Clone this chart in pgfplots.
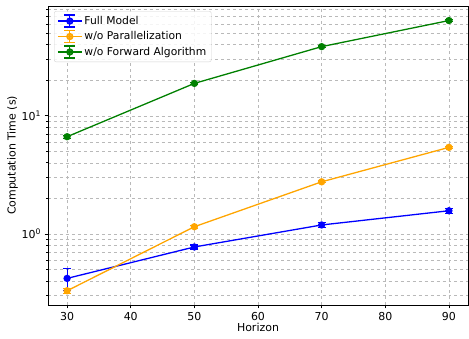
\documentclass[border=0pt]{standalone}
\usepackage{pgfplots}
\pgfplotsset{compat=1.18}
\usepackage{fontspec}
\setmainfont{DejaVu Sans}
\definecolor{mblue}{RGB}{0,0,255}
\definecolor{morange}{RGB}{255,165,0}
\definecolor{mgreen}{RGB}{0,128,0}
\begin{document}
\begin{tikzpicture}
\useasboundingbox (-48bp,-34bp) rectangle (421bp,305bp);
\begin{axis}[
  at={(0,0)}, anchor=south west,
  scale only axis, width=420bp, height=299bp,
  ymode=log,
  xmin=27, xmax=93, ymin=0.25, ymax=85,
  xtick={30,40,...,90},
  ytick={1,10},
  minor ytick={0.3,0.4,0.5,0.6,0.7,0.8,0.9,2,3,4,5,6,7,8,9,20,30,40,50,60,70,80},
  yticklabels={10\textsuperscript{0},10\textsuperscript{1}},
  /pgf/number format/assume math mode=true,
  tick label style={font=\fontsize{11}{13}\selectfont},
  label style={font=\fontsize{11}{13}\selectfont},
  xlabel={Horizon}, ylabel={Computation Time (s)},
  xlabel style={yshift=4pt}, ylabel style={yshift=-3pt},
  grid=both,
  major grid style={gray!55, dashed, line width=0.5pt},
  minor grid style={gray!55, dashed, line width=0.5pt},
  axis line style={line width=0.8pt},
  tick style={black, line width=0.6pt},
  major tick length=3.5pt, minor tick length=2pt,
  xtick pos=bottom, ytick pos=left, tick align=outside,
  legend style={font=\fontsize{10.8}{12.5}\selectfont, draw=gray!35, rounded corners=2pt, fill=white, fill opacity=0.85, text opacity=1, row sep=1.8pt, inner xsep=3pt, inner ysep=3pt, at={(0.0143,0.983)}, anchor=north west,
    /tikz/every even column/.append style={column sep=2pt}},
  legend cell align=left,
  legend image code/.code={
    \draw[#1] (0bp,0bp) -- (24bp,0bp);
    \draw[#1, mark=none] (12bp,-6bp) -- (12bp,6bp);
    \draw[#1, mark=none] (6.5bp,-6bp) -- (17.5bp,-6bp);
    \draw[#1, mark=none] (6.5bp,6bp) -- (17.5bp,6bp);
    \draw[#1] plot coordinates {(12bp,0bp)};
  },
  every axis plot/.append style={line width=1.3pt, mark=*, mark size=3pt,
    error bars/y dir=both, error bars/y explicit,
    error bars/error bar style={line width=1.1pt},
    error bars/error mark options={rotate=90, mark size=4pt, line width=1.1pt}},
]
\addplot[mblue, mark options={fill=mblue}] coordinates {
  (30,0.42) +- (0,0.09)
  (50,0.775) +- (0,0.03)
  (70,1.19) +- (0,0.06)
  (90,1.57) +- (0,0.07)
};
\addlegendentry{Full Model}
\addplot[morange, mark options={fill=morange}] coordinates {
  (30,0.33) +- (0,0.015)
  (50,1.15) +- (0,0.03)
  (70,2.76) +- (0,0.06)
  (90,5.4) +- (0,0.1)
};
\addlegendentry{w/o Parallelization}
\addplot[mgreen, mark options={fill=mgreen}] coordinates {
  (30,6.65) +- (0,0.2)
  (50,18.8) +- (0,0.5)
  (70,38.5) +- (0,0.8)
  (90,64) +- (0,1.5)
};
\addlegendentry{w/o Forward Algorithm}
\end{axis}
\end{tikzpicture}
\end{document}
